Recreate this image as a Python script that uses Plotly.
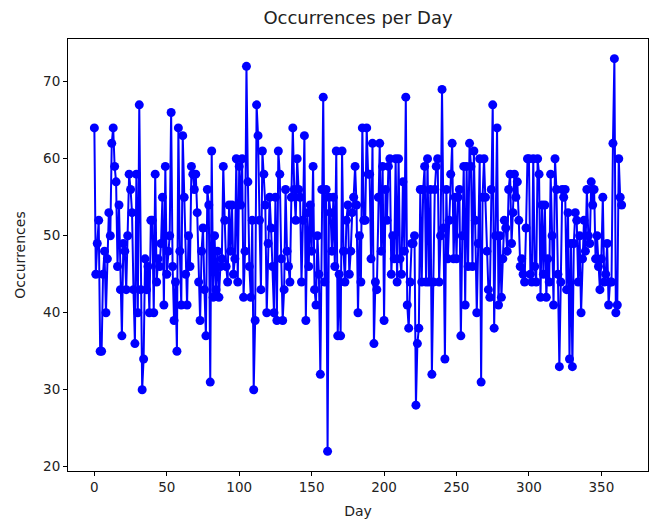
import plotly.graph_objects as go

days = list(range(365))
occurrences = [
    64, 45, 49, 52, 35, 35, 45, 48, 40, 47,
    53, 50, 62, 64, 59, 57, 46, 54, 43, 37,
    49, 48, 43, 50, 58, 56, 53, 43, 36, 58,
    40, 67, 43, 30, 34, 47, 43, 46, 40, 52,
    52, 40, 58, 44, 47, 46, 49, 55, 41, 59,
    45, 48, 50, 66, 46, 39, 44, 35, 64, 48,
    41, 63, 55, 45, 41, 50, 46, 59, 58, 56,
    58, 53, 44, 39, 48, 51, 43, 37, 56, 54,
    31, 61, 42, 50, 43, 48, 42, 46, 47, 59,
    52, 46, 44, 54, 48, 54, 45, 47, 60, 44,
    59, 54, 60, 42, 48, 72, 57, 46, 42, 52,
    30, 39, 67, 63, 52, 43, 61, 58, 54, 40,
    49, 55, 51, 46, 40, 55, 39, 61, 58, 47,
    39, 43, 56, 48, 46, 44, 55, 64, 56, 52,
    60, 56, 55, 44, 52, 63, 39, 53, 46, 54,
    48, 59, 43, 41, 50, 45, 32, 56, 68, 44,
    56, 22, 55, 53, 48, 55, 46, 61, 37, 45,
    37, 61, 48, 44, 52, 54, 45, 48, 53, 55,
    59, 54, 40, 50, 44, 64, 52, 52, 64, 58,
    58, 47, 62, 36, 44, 43, 55, 62, 48, 59,
    39, 56, 52, 59, 60, 45, 50, 47, 60, 44,
    60, 47, 45, 57, 48, 68, 41, 38, 44, 49,
    49, 50, 28, 36, 38, 56, 44, 56, 59, 44,
    60, 44, 56, 32, 44, 56, 59, 60, 44, 50,
    69, 51, 34, 56, 47, 52, 58, 62, 47, 55,
    47, 55, 56, 37, 50, 59, 41, 59, 46, 62,
    59, 46, 61, 52, 40, 49, 60, 31, 55, 60,
    55, 48, 43, 42, 56, 67, 38, 50, 64, 41,
    50, 42, 47, 52, 51, 48, 56, 58, 49, 53,
    58, 55, 57, 52, 46, 47, 45, 44, 51, 60,
    60, 45, 44, 60, 46, 44, 60, 58, 42, 54,
    45, 54, 42, 47, 44, 58, 50, 41, 60, 56,
    45, 33, 44, 56, 55, 56, 43, 53, 34, 49,
    33, 49, 53, 52, 44, 50, 40, 47, 52, 48,
    56, 50, 49, 57, 54, 56, 47, 50, 46, 43,
    47, 55, 44, 45, 49, 41, 44, 44, 62, 73,
    40, 41, 60, 55, 54,
]

x_ticks = [0, 50, 100, 150, 200, 250, 300, 350]
y_ticks = [20, 30, 40, 50, 60, 70]

font_family = "DejaVu Sans, sans-serif"

fig = go.Figure(
    go.Scatter(
        x=days,
        y=occurrences,
        mode="lines+markers",
        line=dict(color="#0000ff", width=2),
        marker=dict(color="#0000ff", size=9),
    )
)

xmin, xmax = min(days), max(days)
ymin, ymax = min(occurrences), max(occurrences)
xpad = (xmax - xmin) * 0.05
ypad = (ymax - ymin) * 0.05

axis_common = dict(
    showline=True,
    linecolor="black",
    linewidth=1,
    mirror=True,
    ticks="outside",
    ticklen=4,
    tickwidth=1,
    tickcolor="black",
    showgrid=False,
    zeroline=False,
    automargin=False,
    tickfont=dict(family=font_family, size=13.5, color="#222"),
)

ML, MR, MT, MB = 68, 5, 39, 52
W, H = 653, 523

fig.update_layout(
    width=W,
    height=H,
    margin=dict(l=ML, r=MR, t=MT, b=MB, autoexpand=False),
    paper_bgcolor="white",
    plot_bgcolor="white",
    showlegend=False,
    title=dict(
        text="Occurrences per Day",
        x=0.5 * (ML + W - MR) / W,
        xanchor="center",
        y=1 - 18 / H,
        yanchor="middle",
        font=dict(family=font_family, size=18, color="#222"),
    ),
    xaxis=dict(
        range=[xmin - xpad, xmax + xpad],
        tickvals=x_ticks,
        title=dict(text="Day", font=dict(family=font_family, size=14, color="#222"), standoff=11),
        **axis_common,
    ),
    yaxis=dict(
        range=[ymin - ypad, ymax + ypad],
        tickvals=y_ticks,
        title=dict(text="Occurrences", font=dict(family=font_family, size=14, color="#222"), standoff=14),
        **axis_common,
    ),
)

fig.write_html(
    "out.html",
    config={"displayModeBar": False},
    post_script="document.body.style.margin='0px';",
)
